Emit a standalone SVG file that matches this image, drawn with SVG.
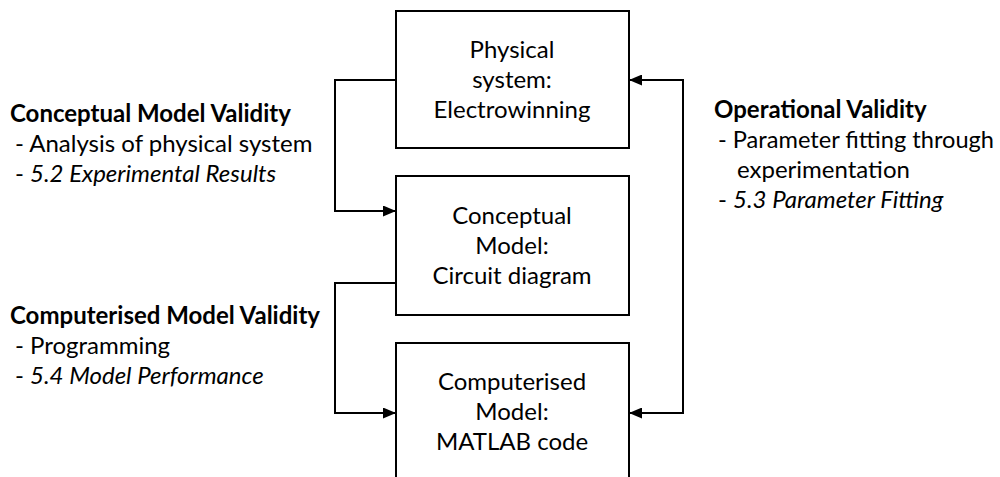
<svg xmlns="http://www.w3.org/2000/svg" width="1000" height="477" viewBox="0 0 1000 477">
  <style>
    .box { fill: #ffffff; stroke: #000000; stroke-width: 2; }
    .wire { fill: none; stroke: #000000; stroke-width: 2; }
    text { font-family: Lato, "Liberation Sans", sans-serif; font-size: 24px; fill: #000000; }
    .c { text-anchor: middle; }
    .b { font-weight: bold; }
    .i { font-style: italic; }
  </style>
  <defs>
    <marker id="arrow" viewBox="0 0 13 11" refX="13" refY="5.5" markerWidth="13" markerHeight="11" markerUnits="userSpaceOnUse" orient="auto-start-reverse">
      <path d="M0,0 L13,5.5 L0,11 Z" fill="#000000"/>
    </marker>
  </defs>

  <rect width="1000" height="477" fill="#ffffff"/>

  <!-- connectors -->
  <g id="connectors">
    <path class="wire" d="M396,80 H335 V211 H396" marker-end="url(#arrow)"/>
    <path class="wire" d="M396,283 H335 V413 H396" marker-end="url(#arrow)"/>
    <path class="wire" d="M629,413 H683 V80 H629" marker-start="url(#arrow)" marker-end="url(#arrow)"/>
  </g>

  <!-- physical system -->
  <g id="physical-system">
    <rect class="box" x="396" y="11" width="233" height="137"/>
    <text class="c" x="512" y="58">Physical</text>
    <text class="c" x="512" y="88">system:</text>
    <text class="c" x="512" y="118">Electrowinning</text>
  </g>

  <!-- conceptual model -->
  <g id="conceptual-model">
    <rect class="box" x="396" y="176" width="233" height="139"/>
    <text class="c" x="512" y="224">Conceptual</text>
    <text class="c" x="512" y="254">Model:</text>
    <text class="c" x="512" y="284">Circuit diagram</text>
  </g>

  <!-- computerised model -->
  <g id="computerised-model">
    <rect class="box" x="396" y="343" width="233" height="150"/>
    <text class="c" x="512" y="390">Computerised</text>
    <text class="c" x="512" y="420">Model:</text>
    <text class="c" x="512" y="450">MATLAB code</text>
  </g>

  <!-- validity notes -->
  <g id="conceptual-validity">
    <text class="b" x="10" y="122">Conceptual Model Validity</text>
    <text x="15" y="152">- Analysis of physical system</text>
    <text x="15" y="182">- <tspan class="i">5.2 Experimental Results</tspan></text>
  </g>

  <g id="computerised-validity">
    <text class="b" x="10" y="324">Computerised Model Validity</text>
    <text x="15" y="354">- Programming</text>
    <text x="15" y="384">- <tspan class="i">5.4 Model Performance</tspan></text>
  </g>

  <g id="operational-validity">
    <text class="b" x="714" y="118">Operational Validity</text>
    <text x="718" y="148" textLength="276" lengthAdjust="spacingAndGlyphs">- Parameter fitting through</text>
    <text x="737" y="178">experimentation</text>
    <text x="718" y="208">- <tspan class="i">5.3 Parameter Fitting</tspan></text>
  </g>
</svg>
